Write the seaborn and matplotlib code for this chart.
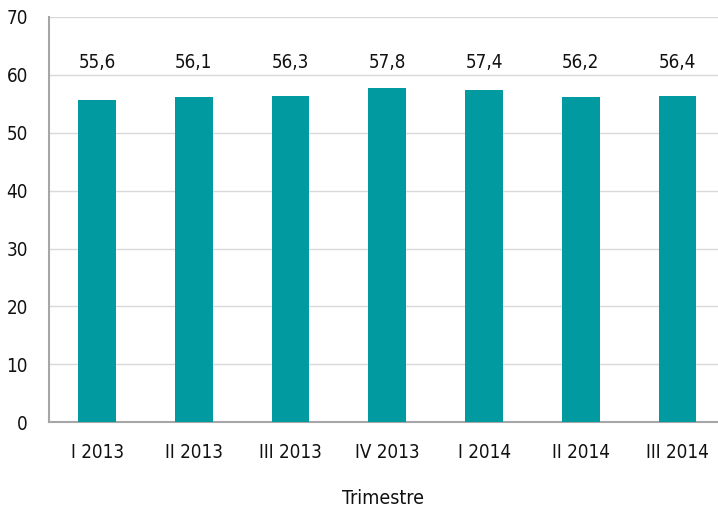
import pandas as pd
import matplotlib.pyplot as plt
import seaborn as sns

# Quarterly values
quarters = ["I 2013", "II 2013", "III 2013", "IV 2013", "I 2014", "II 2014", "III 2014"]
values = [55.6, 56.1, 56.3, 57.8, 57.4, 56.2, 56.4]
value_labels = ["55,6", "56,1", "56,3", "57,8", "57,4", "56,2", "56,4"]

df = pd.DataFrame({"Trimestre": quarters, "Valor": values})

sns.set_theme(style="white")
plt.rcParams["font.family"] = ["DejaVu Sans"]
plt.rcParams["font.stretch"] = "condensed"

fig = plt.figure(figsize=(7.18, 5.13), dpi=100)
# plot area runs slightly past the right edge, as in the original
ax = fig.add_axes([0.068, 0.177, 0.943, 0.79])

sns.barplot(data=df, x="Trimestre", y="Valor", color="#009aa0",
            width=0.39, saturation=1, linewidth=0, ax=ax, zorder=3)

ax.set_ylim(0, 70)
ax.set_yticks(range(0, 71, 10))
ax.grid(axis="y", color="#d9d9d9", linewidth=1, zorder=0)

for s in ["top", "right"]:
    ax.spines[s].set_visible(False)
for s in ["left", "bottom"]:
    ax.spines[s].set_color("#a6a6a6")
    ax.spines[s].set_linewidth(1.5)

ax.tick_params(axis="both", length=0, labelsize=13.5, colors="#111111")
ax.tick_params(axis="y", pad=15)
ax.tick_params(axis="x", pad=15)

# value labels sit on a common line above the bars
for i, lab in enumerate(value_labels):
    ax.text(i, 62.2, lab, ha="center", va="center", fontsize=13.5, color="#111111")

ax.set_xlabel("Trimestre", fontsize=14, color="#111111")
ax.xaxis.set_label_coords((383 - 49) / (0.943 * 718), -0.166)
ax.set_ylabel("")

fig.savefig("out.png", dpi=100)
